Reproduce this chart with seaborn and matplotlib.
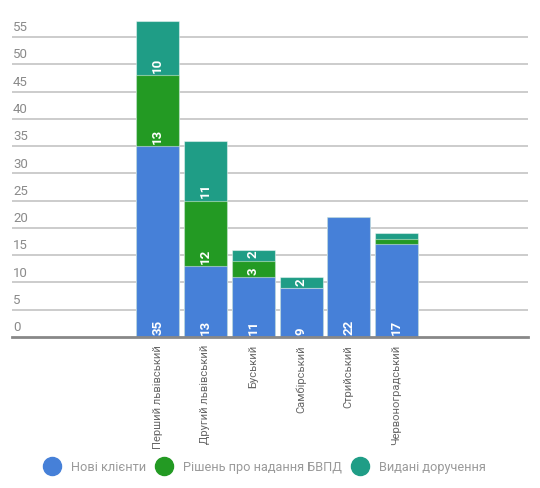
import matplotlib
matplotlib.use("Agg")
import numpy as np
import pandas as pd
import seaborn as sns
import matplotlib.pyplot as plt
from matplotlib.lines import Line2D

# data
districts = ["Перший львівський", "Другий львівський", "Буський",
             "Самбірський", "Стрийський", "Червоноградський"]
new_clients = [35, 13, 11, 9, 22, 17]
decisions = [13, 12, 3, 0, 0, 1]
orders = [10, 11, 2, 2, 0, 1]
series_names = ["Нові клієнти", "Рішень про надання БВПД", "Видані доручення"]
colors = ["#4680d8", "#239a23", "#1f9d86"]
yticks = list(range(0, 60, 5))

sns.set_style("white")
plt.rcParams['font.family'] = ['Roboto', 'DejaVu Sans']

df = pd.DataFrame({"district": districts, "new": new_clients,
                   "dec": decisions, "ord": orders})
df["lvl1"] = df["new"]
df["lvl2"] = df["new"] + df["dec"]
df["lvl3"] = df["lvl2"] + df["ord"]

fig = plt.figure(figsize=(5.4, 4.89), dpi=100)
ax = fig.add_axes([12 / 540, 1 - 338 / 489, 516 / 540, 318 / 489])

for col, c in zip(["lvl3", "lvl2", "lvl1"], colors[::-1]):
    sns.barplot(data=df, x="district", y=col, order=districts, color=c,
                width=0.9, saturation=1, edgecolor=(1, 1, 1, 0.45),
                linewidth=0.8, ax=ax, zorder=3)

# segment labels
for i in range(len(districts)):
    segs = [(0, new_clients[i]), (df["lvl1"][i], decisions[i]),
            (df["lvl2"][i], orders[i])]
    for base, val in segs:
        if val >= 2:
            ax.text(i, base + 0.6, str(val), rotation=90, ha="center",
                    va="bottom", color="white", fontsize=9.5,
                    fontweight="bold", zorder=5)

ax.set_xlim(-3.05, 7.75)
ax.set_ylim(0, 58.3)
ax.set_yticks([])
ax.set_xlabel("")
ax.set_ylabel("")
for v in yticks[1:]:
    ax.axhline(v, color="#c8c8c8", lw=1.3, zorder=1)
for v in yticks:
    ax.text(0.002, v + 0.7, str(v), transform=ax.get_yaxis_transform(),
            ha="left", va="bottom", color="#8a8a8a", fontsize=9.5)

for s in ["top", "right", "left"]:
    ax.spines[s].set_visible(False)
ax.spines["bottom"].set_color("#888888")
ax.spines["bottom"].set_linewidth(2)
ax.spines["bottom"].set_zorder(4)
ax.tick_params(axis="x", length=0, pad=5)
ax.set_xticks(range(len(districts)))
ax.set_xticklabels(districts, rotation=90, va="top", ha="center",
                   color="#666666", fontsize=8)

handles = [Line2D([0], [0], marker="o", linestyle="", markersize=13,
                  markerfacecolor=c, markeredgecolor=c) for c in colors]
fig.legend(handles, series_names, loc="center", bbox_to_anchor=(0.49, 0.044),
           ncol=3, frameon=False, fontsize=9.2, labelcolor="#9a9a9a",
           handletextpad=0.8, columnspacing=0.8, handlelength=1.3)

fig.savefig("out.png", dpi=100)
